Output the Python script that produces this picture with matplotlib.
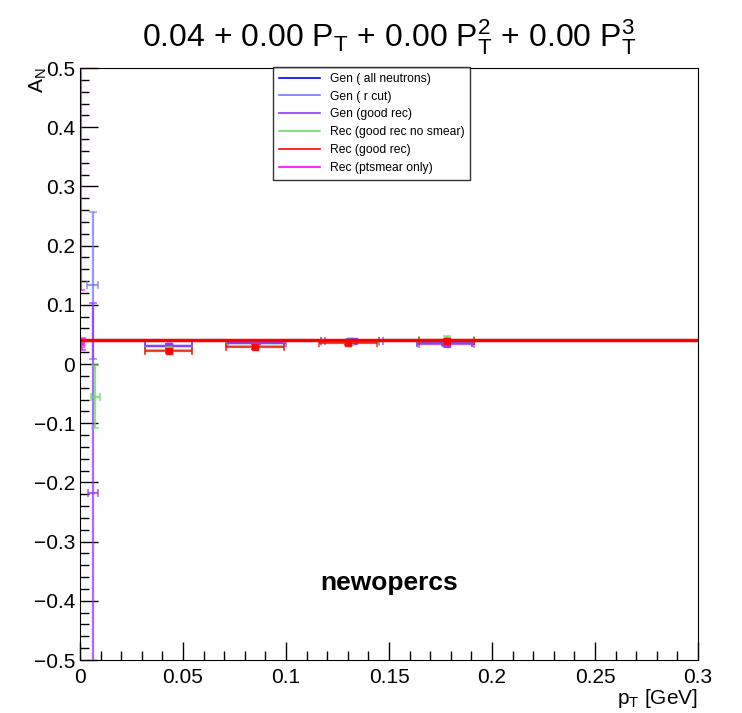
import matplotlib
matplotlib.use("Agg")
import matplotlib.pyplot as plt
from matplotlib.ticker import MultipleLocator
import numpy as np

plt.rcParams['font.family'] = ['Liberation Sans', 'DejaVu Sans']
plt.rcParams['mathtext.fontset'] = 'custom'
plt.rcParams['mathtext.rm'] = 'Liberation Sans'
plt.rcParams['mathtext.it'] = 'Liberation Sans'

# ---- data ----
labels = ["Gen ( all neutrons)", "Gen ( r cut)", "Gen (good rec)",
          "Rec (good rec no smear)", "Rec (good rec)", "Rec (ptsmear only)"]
colors = ["#0000ff", "#7777ff", "#9933ff", "#66dd66", "#ff0000", "#ff00ff"]

gen_all_x = [0.043, 0.085, 0.131, 0.177]
gen_all_xerr = [0.0115, 0.014, 0.014, 0.0135]
gen_all_y = [0.031, 0.036, 0.039, 0.035]
gen_all_yerr = [0.003, 0.003, 0.003, 0.003]

gen_rcut_x = [0.0062, 0.043, 0.085, 0.131, 0.177]
gen_rcut_xerr = [0.0026, 0.0115, 0.014, 0.014, 0.0135]
gen_rcut_y = [0.133, 0.031, 0.036, 0.039, 0.035]
gen_rcut_yerr = [0.124, 0.003, 0.003, 0.003, 0.003]

gen_good_x = [0.0063, 0.043, 0.086, 0.133, 0.178]
gen_good_xerr = [0.0025, 0.0115, 0.014, 0.014, 0.0135]
gen_good_y = [-0.218, 0.031, 0.036, 0.039, 0.034]
gen_good_yerr = [0.321, 0.003, 0.003, 0.003, 0.003]

rec_nosmear_x = [0.0074, 0.043, 0.085, 0.131, 0.178]
rec_nosmear_xerr = [0.0023, 0.0115, 0.014, 0.014, 0.0135]
rec_nosmear_y = [-0.055, 0.024, 0.030, 0.037, 0.041]
rec_nosmear_yerr = [0.053, 0.004, 0.004, 0.004, 0.006]

rec_good_x = [0.043, 0.085, 0.130, 0.178]
rec_good_xerr = [0.0115, 0.014, 0.014, 0.0135]
rec_good_y = [0.022, 0.029, 0.036, 0.039]
rec_good_yerr = [0.004, 0.004, 0.004, 0.004]

rec_ptsmear_x = [0.0005, 0.0012]
rec_ptsmear_xerr = [0.0005, 0.0007]
rec_ptsmear_y = [0.62, 0.034]
rec_ptsmear_yerr = [0.495, 0.010]

fit_p = [0.04, 0.0, 0.0, 0.0]
fit_range = [0.0, 0.3]

series = [
    (gen_all_x, gen_all_xerr, gen_all_y, gen_all_yerr),
    (gen_rcut_x, gen_rcut_xerr, gen_rcut_y, gen_rcut_yerr),
    (gen_good_x, gen_good_xerr, gen_good_y, gen_good_yerr),
    (rec_nosmear_x, rec_nosmear_xerr, rec_nosmear_y, rec_nosmear_yerr),
    (rec_good_x, rec_good_xerr, rec_good_y, rec_good_yerr),
    (rec_ptsmear_x, rec_ptsmear_xerr, rec_ptsmear_y, rec_ptsmear_yerr),
]

fig = plt.figure(figsize=(7.42, 7.13), dpi=100)
ax = fig.add_axes([80/742, 1-660/713, 618/742, 592/713])

handles = []
for (x, xe, y, ye), c, lab in zip(series, colors, labels):
    x = np.asarray(x); y = np.asarray(y)
    ax.errorbar(x, y, xerr=xe, yerr=ye, fmt='none', ecolor=c,
                elinewidth=1.6, capsize=3, capthick=1.2, alpha=0.75)
    m = x > 0.02
    ax.plot(x[m], y[m], 's', color=c, ms=4.5, alpha=0.85)
    h, = ax.plot([], [], color=c, lw=1.2, label=lab)
    handles.append(h)

xf = np.linspace(fit_range[0], fit_range[1], 200)
yf = fit_p[0] + fit_p[1]*xf + fit_p[2]*xf**2 + fit_p[3]*xf**3
ax.plot(xf, yf, color='#ff0000', lw=2.5)

ax.set_xlim(0, 0.3)
ax.set_ylim(-0.5, 0.5)
ax.xaxis.set_minor_locator(MultipleLocator(0.01))
ax.yaxis.set_minor_locator(MultipleLocator(0.02))
ax.tick_params(which='both', direction='in', top=False, right=False, labelsize=15, width=1)
ax.tick_params(which='major', length=13)
ax.tick_params(which='minor', length=6.5)
ax.tick_params(axis='x', pad=6)
ax.set_xticks([0, 0.05, 0.1, 0.15, 0.2, 0.25, 0.3])
ax.set_xticklabels(["0", "0.05", "0.1", "0.15", "0.2", "0.25", "0.3"])
ax.set_yticks(np.round(np.arange(-0.5, 0.51, 0.1), 1))
ax.set_yticklabels(["\u22120.5", "\u22120.4", "\u22120.3", "\u22120.2", "\u22120.1", "0",
                    "0.1", "0.2", "0.3", "0.4", "0.5"])

fig.text(0.525, 1-37/713, r"0.04 + 0.00 P$_{\rm T}$ + 0.00 P$_{\rm T}^{2}$ + 0.00 P$_{\rm T}^{3}$",
         ha='center', va='center', fontsize=23)
ax.text(1.0, -0.046, r"p$_{\rm T}$ [GeV]", transform=ax.transAxes, ha='right', va='top', fontsize=15)
ax.text(-0.068, 1.0, r"A$_{\rm N}$", transform=ax.transAxes, ha='center', va='top',
        rotation=90, fontsize=15)
ax.text(0.15, -0.37, "newopercs", ha='center', va='center', fontsize=19, fontweight='bold')

leg = ax.legend(handles=handles, loc='upper left', bbox_to_anchor=(193/618, 1.002),
                fontsize=8.7, frameon=True, fancybox=False, edgecolor='black',
                handlelength=3.4, borderpad=0.5, labelspacing=0.48, borderaxespad=0)
leg.get_frame().set_linewidth(1.0)

fig.savefig("out.png", dpi=100)
